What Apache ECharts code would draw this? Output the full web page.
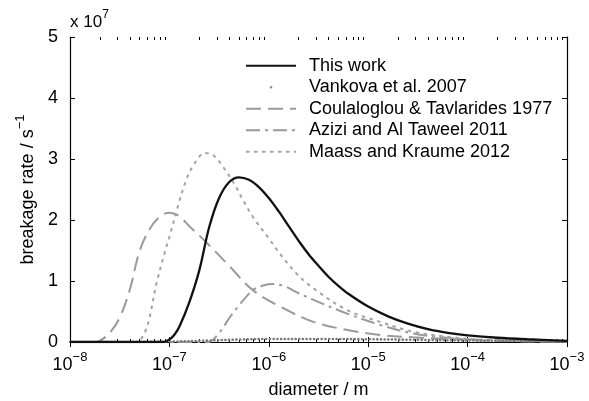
<!DOCTYPE html>
<html><head><meta charset="utf-8">
<script src="https://cdn.jsdelivr.net/npm/echarts@6/dist/echarts.min.js"></script>
<style>html,body{margin:0;padding:0;background:#fff}#c{width:589px;height:401px}</style>
</head><body><div id="c"></div>
<script>
// ---- data (diameter given as log10(d / m), rate in units of 1e7 s^-1) ----
const xTickExponents = [-8, -7, -6, -5, -4, -3];
const yTickLabels = [0, 1, 2, 3, 4, 5];
const seriesNames = ['This work', 'Vankova et al. 2007', 'Coulaloglou & Tavlarides 1977', 'Azizi and Al Taweel 2011', 'Maass and Kraume 2012'];

const thisWorkLogD = [-8, -7.5, -7.06, -7.0, -6.95, -6.9, -6.8, -6.7, -6.6, -6.5, -6.4, -6.3, -6.2, -6.1, -6.0, -5.9, -5.8, -5.7, -5.6, -5.5, -5.4, -5.3, -5.2, -5.0, -4.8, -4.6, -4.4, -4.2, -4.0, -3.7, -3.4, -3];
const thisWorkRate = [0, 0, 0, 0.04, 0.12, 0.25, 0.65, 1.17, 1.88, 2.36, 2.62, 2.70, 2.66, 2.54, 2.36, 2.14, 1.90, 1.66, 1.44, 1.25, 1.07, 0.92, 0.79, 0.58, 0.42, 0.30, 0.21, 0.15, 0.11, 0.07, 0.045, 0.02];

const vankovaLogD = [-8, -7.5, -7.0, -6.6, -6.3, -6.0, -5.5, -5.0, -4.5, -4.0, -3.5, -3];
const vankovaRate = [0, 0, 0.005, 0.025, 0.04, 0.05, 0.05, 0.045, 0.035, 0.025, 0.015, 0.008];

const coulaLogD = [-8, -7.75, -7.7, -7.6, -7.5, -7.4, -7.3, -7.2, -7.1, -7.0, -6.9, -6.8, -6.62, -6.4, -6.16, -5.85, -5.55, -5.22, -4.88, -4.55, -4.2, -3.9, -3.5, -3];
const coulaRate = [0, 0, 0.02, 0.15, 0.40, 0.85, 1.49, 1.85, 2.05, 2.12, 2.06, 1.90, 1.62, 1.25, 0.85, 0.55, 0.33, 0.20, 0.115, 0.077, 0.05, 0.03, 0.015, 0.005];

const aziziLogD = [-8, -6.9, -6.61, -6.5, -6.39, -6.3, -6.16, -6.05, -5.96, -5.85, -5.7, -5.55, -5.22, -4.88, -4.55, -4.21, -3.88, -3.5, -3];
const aziziRate = [0, 0, 0, 0.15, 0.41, 0.60, 0.85, 0.93, 0.95, 0.92, 0.80, 0.69, 0.47, 0.28, 0.14, 0.07, 0.035, 0.015, 0.005];

const maassLogD = [-8, -7.33, -7.25, -7.2, -7.13, -7.05, -6.99, -6.91, -6.83, -6.75, -6.64, -6.55, -6.46, -6.35, -6.26, -6.16, -6.0, -5.89, -5.72, -5.55, -5.22, -4.88, -4.55, -4.21, -3.88, -3.5, -3];
const maassRate = [0, 0, 0.15, 0.40, 0.96, 1.45, 1.78, 2.25, 2.66, 2.92, 3.10, 3.05, 2.87, 2.60, 2.33, 2.05, 1.70, 1.45, 1.12, 0.88, 0.53, 0.33, 0.17, 0.087, 0.04, 0.02, 0.01];

// ---- build ----
const FONT = "'Liberation Sans', Arial, Helvetica, sans-serif";
const toPairs = (logs, vals) => logs.map((l, i) => [Math.pow(10, l), vals[i]]);
const sup = n => String(n).replace('-', '\u2212');
const minorVals = [];
xTickExponents.slice(0, -1).forEach(e => { for (let m = 2; m <= 9; m++) minorVals.push(m * Math.pow(10, e)); });

const GRAY = '#9a9a9a';
const logAxisBase = { type: 'log', logBase: 10, min: 1e-8, max: 1e-3, gridIndex: 0, splitLine: { show: false } };
const SMOOTH = 0.35;

const chart = echarts.init(document.getElementById('c'), null, { renderer: 'canvas' });
chart.setOption({
  animation: false,
  backgroundColor: '#fff',
  grid: { left: 70, right: 22, top: 37, bottom: 59, containLabel: false, outerBoundsMode: 'none' },
  graphic: [{
    type: 'text', left: 70, top: 9,
    style: {
      text: '{a|x 10}{b|7}',
      rich: {
        a: { fontFamily: FONT, fontSize: 17, fill: '#000', verticalAlign: 'bottom', lineHeight: 22 },
        b: { fontFamily: FONT, fontSize: 12, fill: '#000', verticalAlign: 'top', lineHeight: 12 }
      }
    }
  }],
  legend: {
    orient: 'vertical', left: 245, top: 55, padding: 0,
    itemWidth: 50, itemHeight: 3, itemGap: 0,
    selectedMode: false,
    textStyle: { fontFamily: FONT, fontSize: 18, color: '#000', lineHeight: 21.5, padding: [0, 0, 0, 8] },
    data: [
      { name: seriesNames[0], itemStyle: { opacity: 0 } },
      { name: seriesNames[1], lineStyle: { opacity: 0 } },
      { name: seriesNames[2], itemStyle: { opacity: 0 } },
      { name: seriesNames[3], itemStyle: { opacity: 0 } },
      { name: seriesNames[4], itemStyle: { opacity: 0 } }
    ]
  },
  xAxis: [
    Object.assign({}, logAxisBase, {
      position: 'bottom',
      axisLine: { show: true, lineStyle: { color: '#000', width: 1.2 } },
      axisTick: { show: true, inside: true, length: 5, lineStyle: { color: '#000', width: 1 } },
      axisLabel: {
        show: true, margin: 9, showMinLabel: true, showMaxLabel: true,
        formatter: v => '{b|10}{s|' + sup(Math.round(Math.log10(v))) + '}',
        rich: {
          b: { fontFamily: FONT, fontSize: 18, color: '#000', verticalAlign: 'bottom', lineHeight: 23 },
          s: { fontFamily: FONT, fontSize: 13, color: '#000', verticalAlign: 'top', lineHeight: 13 }
        }
      },
      name: 'diameter / m', nameLocation: 'middle', nameGap: 39,
      nameTextStyle: { fontFamily: FONT, fontSize: 18, color: '#000' }
    }),
    Object.assign({}, logAxisBase, {
      position: 'top',
      axisLine: { show: true, lineStyle: { color: '#000', width: 1.2 } },
      axisTick: { show: true, inside: true, length: 5, lineStyle: { color: '#000', width: 1 } },
      axisLabel: { show: false }
    }),
    Object.assign({}, logAxisBase, {
      position: 'bottom',
      axisLine: { show: false },
      axisTick: { show: true, inside: true, length: 3, customValues: minorVals, lineStyle: { color: '#000', width: 1 } },
      axisLabel: { show: false }
    }),
    Object.assign({}, logAxisBase, {
      position: 'top',
      axisLine: { show: false },
      axisTick: { show: true, inside: true, length: 3, customValues: minorVals, lineStyle: { color: '#000', width: 1 } },
      axisLabel: { show: false }
    })
  ],
  yAxis: [
    {
      type: 'value', min: yTickLabels[0], max: yTickLabels[yTickLabels.length - 1], interval: 1, position: 'left',
      splitLine: { show: false },
      axisLine: { show: true, lineStyle: { color: '#000', width: 1.2 } },
      axisTick: { show: true, inside: true, length: 5, lineStyle: { color: '#000', width: 1 } },
      axisLabel: { margin: 12, fontFamily: FONT, fontSize: 18, color: '#000' },
      name: '{a|breakage rate / s}{b|\u22121}', nameLocation: 'middle', nameGap: 32,
      nameTextStyle: {
        rich: {
          a: { fontFamily: FONT, fontSize: 18, color: '#000', verticalAlign: 'bottom', lineHeight: 23 },
          b: { fontFamily: FONT, fontSize: 13, color: '#000', verticalAlign: 'top', lineHeight: 13 }
        }
      }
    },
    {
      type: 'value', min: 0, max: 5, interval: 1, position: 'right',
      splitLine: { show: false },
      axisLine: { show: true, lineStyle: { color: '#000', width: 1.2 } },
      axisTick: { show: true, inside: true, length: 5, lineStyle: { color: '#000', width: 1 } },
      axisLabel: { show: false }
    }
  ],
  series: [
    {
      name: seriesNames[2], type: 'line', xAxisIndex: 0, yAxisIndex: 0, symbol: 'none', smooth: SMOOTH,
      data: toPairs(coulaLogD, coulaRate), z: 2,
      lineStyle: { color: GRAY, width: 2, type: [15, 7] }, itemStyle: { color: GRAY }
    },
    {
      name: seriesNames[3], type: 'line', xAxisIndex: 0, yAxisIndex: 0, symbol: 'none', smooth: SMOOTH,
      data: toPairs(aziziLogD, aziziRate), z: 2,
      lineStyle: { color: GRAY, width: 2, type: [14, 5, 3, 5] }, itemStyle: { color: GRAY }
    },
    {
      name: seriesNames[4], type: 'line', xAxisIndex: 0, yAxisIndex: 0, symbol: 'none', smooth: SMOOTH,
      data: toPairs(maassLogD, maassRate), z: 2,
      lineStyle: { color: '#a4a4a4', width: 2, type: [3.5, 4.5] }, itemStyle: { color: '#a4a4a4' }
    },
    {
      name: seriesNames[1], type: 'line', xAxisIndex: 0, yAxisIndex: 0, symbol: 'circle', showSymbol: false, symbolSize: 3,
      smooth: SMOOTH,
      data: toPairs(vankovaLogD, vankovaRate), z: 3,
      lineStyle: { color: '#7a7a7a', width: 2.6, type: [0.1, 3.6], cap: 'round' }, itemStyle: { color: '#8a8a8a' }
    },
    {
      name: seriesNames[0], type: 'line', xAxisIndex: 0, yAxisIndex: 0, symbol: 'none', smooth: SMOOTH,
      data: toPairs(thisWorkLogD, thisWorkRate), z: 4,
      lineStyle: { color: '#111', width: 2.3 }, itemStyle: { color: '#111' }
    }
  ]
});
</script></body></html>
